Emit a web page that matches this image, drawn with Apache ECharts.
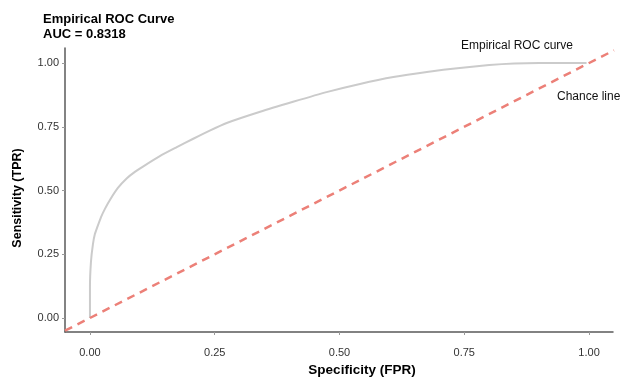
<!DOCTYPE html>
<html>
<head>
<meta charset="utf-8">
<script src="https://cdn.jsdelivr.net/npm/echarts@6/dist/echarts.min.js"></script>
<style>
html,body{margin:0;padding:0;background:#fff;}
#c{width:621px;height:379px;}
</style>
</head>
<body>
<div id="c"></div>
<script>
var rocFPR = [0, 0, 0.002, 0.006, 0.010, 0.015, 0.022, 0.030, 0.040, 0.056, 0.074, 0.090, 0.107, 0.140, 0.174, 0.207, 0.240, 0.274, 0.341, 0.407, 0.474, 0.541, 0.608, 0.675, 0.741, 0.800, 0.850, 0.900, 0.995];
var rocTPR = [0, 0.12, 0.22, 0.29, 0.33, 0.358, 0.395, 0.428, 0.463, 0.510, 0.548, 0.573, 0.595, 0.635, 0.670, 0.703, 0.735, 0.765, 0.809, 0.848, 0.886, 0.918, 0.945, 0.965, 0.981, 0.992, 0.998, 1.0, 1.0];
var chanceX = [-0.05, 1.05];
var chanceY = [-0.05, 1.05];
var tickValues = [0, 0.25, 0.5, 0.75, 1.0];
var titleText = 'Empirical ROC Curve';
var aucText = 'AUC = 0.8318';

var rocData = rocFPR.map(function (x, i) { return [x, rocTPR[i]]; });
var chanceData = chanceX.map(function (x, i) { return [x, chanceY[i]]; });

var chart = echarts.init(document.getElementById('c'));
var font = 'Liberation Sans, Arial, sans-serif';
chart.setOption({
  animation: false,
  title: {
    text: titleText + '\n' + aucText,
    left: 43, top: 12, padding: 0,
    textStyle: { fontFamily: font, fontWeight: 'bold', fontSize: 13, color: '#000', lineHeight: 15 }
  },
  grid: { left: 65, top: 48, width: 548, height: 284, containLabel: false, outerBoundsMode: 'none' },
  xAxis: {
    type: 'value', min: -0.05, max: 1.048,
    name: 'Specificity (FPR)', nameLocation: 'middle', nameGap: 31,
    nameTextStyle: { fontFamily: font, fontWeight: 'bold', fontSize: 13.5, color: '#000', padding: [0, 0, 0, 46] },
    axisLine: { show: true, onZero: false, lineStyle: { color: '#5a5a5a', width: 1.5 } },
    axisTick: { show: true, length: 3, customValues: tickValues, lineStyle: { color: '#999' } },
    axisLabel: { customValues: tickValues, margin: 15, fontFamily: font, fontSize: 11, color: '#333',
      formatter: function (v) { return v.toFixed(2); } },
    splitLine: { show: false }
  },
  yAxis: {
    type: 'value', min: -0.055, max: 1.059,
    name: 'Sensitivity (TPR)', nameLocation: 'middle', nameGap: 41, nameRotate: 90,
    nameTextStyle: { fontFamily: font, fontWeight: 'bold', fontSize: 12.5, color: '#000', padding: [0, 16, 0, 0] },
    axisLine: { show: true, onZero: false, lineStyle: { color: '#5a5a5a', width: 1.5 } },
    axisTick: { show: true, length: 3, customValues: tickValues, lineStyle: { color: '#999' } },
    axisLabel: { customValues: tickValues, margin: 6, fontFamily: font, fontSize: 11, color: '#333',
      formatter: function (v) { return v.toFixed(2); } },
    splitLine: { show: false }
  },
  series: [
    {
      type: 'line', data: rocData, showSymbol: false, smooth: 0.2,
      lineStyle: { color: '#cbcbcb', width: 2 }, z: 2
    },
    {
      type: 'line', data: chanceData, showSymbol: false,
      lineStyle: { color: '#ec8078', width: 2.5, type: [8, 6] }, z: 3
    }
  ],
  graphic: [
    { type: 'text', left: 461, top: 40, style: { text: 'Empirical ROC curve', font: '12px ' + font, fill: '#111' } },
    { type: 'text', left: 557, top: 91, style: { text: 'Chance line', font: '12px ' + font, fill: '#111' } }
  ]
});
</script>
</body>
</html>
